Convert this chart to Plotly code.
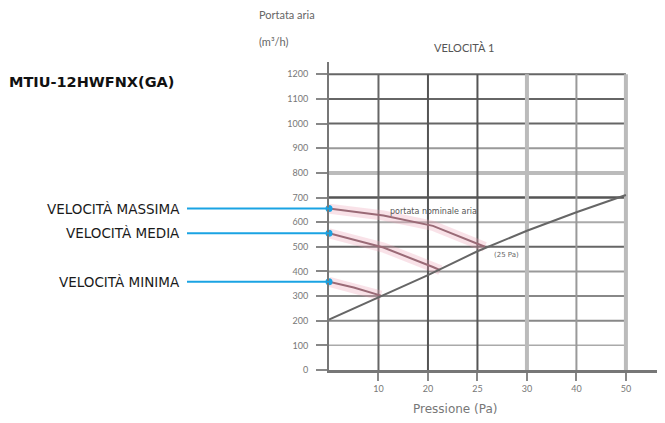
import plotly.graph_objects as go

# --- data ---
x_ticks = [1, 2, 3, 4, 5, 6]
x_tick_labels = ["10", "20", "25", "30", "40", "50"]
y_ticks = [0, 100, 200, 300, 400, 500, 600, 700, 800, 900, 1000, 1100, 1200]

# speed curves (x in grid steps, y in m3/h)
max_x = [0, 1.1, 2.1, 3.15]
max_y = [655, 627, 585, 500]
mid_x = [0, 1.1, 2.1, 2.25]
mid_y = [555, 497, 418, 405]
min_x = [0, 0.5, 1.05]
min_y = [358, 335, 302]

# system curve
sys_x = [0, 1, 2, 3, 4, 5, 6]
sys_y = [205, 295, 385, 482, 565, 640, 710]

speed_names = ["VELOCITÀ MASSIMA", "VELOCITÀ MEDIA", "VELOCITÀ MINIMA"]
speed_start = [655, 555, 358]

# the page body adds an 8px margin, so the figure is drawn 8px in
OFF = 8
W, H = 665 - OFF, 423 - OFF
L, R = 329 - OFF, 0
T = 62 - OFF
B = H - (370 - OFF)
PW = W - L - R
PH = H - T - B
X_MAX = 6.79
Y_MAX = 1250


def px_x(px):
    # screen pixel -> paper x
    return (px - OFF - L) / PW


def px_y(py):
    # screen pixel -> paper y
    return (H - B - (py - OFF)) / PH


fig = go.Figure()

# horizontal grid lines
h_style = {100: ("#aaa", 1.5), 200: ("#888", 2), 300: ("#888", 2), 400: ("#999", 2),
           500: ("#666", 2), 600: ("#aaa", 2), 700: ("#555", 2.5), 800: ("#bbb", 4),
           900: ("#999", 2), 1000: ("#666", 2), 1100: ("#666", 2), 1200: ("#666", 2)}
for v in y_ticks[1:]:
    c, w = h_style[v]
    fig.add_shape(type="line", xref="x", yref="y", x0=0, x1=6, y0=v, y1=v,
                  line=dict(color=c, width=w), layer="below")

# vertical grid lines
v_style = {1: ("#666", 2), 2: ("#555", 2), 3: ("#555", 2), 4: ("#bbb", 4),
           5: ("#999", 2), 6: ("#bbb", 4)}
for v in x_ticks:
    c, w = v_style[v]
    fig.add_shape(type="line", xref="x", yref="y", x0=v, x1=v, y0=0, y1=1200,
                  line=dict(color=c, width=w), layer="below")

# pink halos + curves
for xs, ys in [(max_x, max_y), (mid_x, mid_y), (min_x, min_y)]:
    fig.add_trace(go.Scatter(x=xs, y=ys, mode="lines", hoverinfo="skip",
                             line=dict(color="rgba(235,160,180,0.3)", width=10)))
    fig.add_trace(go.Scatter(x=xs, y=ys, mode="lines", hoverinfo="skip",
                             line=dict(color="#9a6a76", width=2)))

fig.add_trace(go.Scatter(x=sys_x, y=sys_y, mode="lines", hoverinfo="skip",
                         line=dict(color="#666", width=2)))

# callout lines and dots
for name, v in zip(speed_names, speed_start):
    fig.add_shape(type="line", xref="paper", yref="y", x0=px_x(187), x1=0,
                  y0=v, y1=v, line=dict(color="#1aa3e3", width=2))
    fig.add_annotation(xref="paper", yref="y", x=px_x(182), y=v, text=name,
                       showarrow=False, xanchor="right", yanchor="middle",
                       font=dict(family="DejaVu Sans", size=13.5, color="#1a1a1a"))
fig.add_trace(go.Scatter(x=[0] * len(speed_start), y=speed_start, mode="markers",
                         cliponaxis=False, hoverinfo="skip",
                         marker=dict(color="#1aa3e3", size=7)))

# small labels inside chart
fig.add_annotation(xref="x", yref="y", x=1.2, y=645, text="portata nominale aria",
                   showarrow=False, xanchor="left", yanchor="middle",
                   font=dict(family="DejaVu Sans", size=8, color="#555"))
fig.add_annotation(xref="x", yref="y", x=3.3, y=465, text="(25 Pa)",
                   showarrow=False, xanchor="left", yanchor="middle",
                   font=dict(family="DejaVu Sans", size=7, color="#666"))

# titles
fig.add_annotation(xref="paper", yref="paper", x=px_x(176), y=px_y(82),
                   text="<b>MTIU-12HWFNX(GA)</b>", showarrow=False,
                   xanchor="right", yanchor="middle",
                   font=dict(family="DejaVu Sans", size=14.5, color="#111"))
fig.add_annotation(xref="paper", yref="paper", x=px_x(257), y=px_y(15),
                   text="Portata aria", showarrow=False, xanchor="left",
                   yanchor="middle", font=dict(family="Lato", size=11, color="#666"))
fig.add_annotation(xref="paper", yref="paper", x=px_x(257), y=px_y(41),
                   text="(m³/h)", showarrow=False, xanchor="left",
                   yanchor="middle", font=dict(family="Lato", size=11, color="#666"))
fig.add_annotation(xref="paper", yref="paper", x=px_x(464), y=px_y(47),
                   text="VELOCITÀ 1", showarrow=False, xanchor="center",
                   yanchor="middle", font=dict(family="Lato", size=11, color="#555"))
fig.add_annotation(xref="paper", yref="paper", x=px_x(455), y=px_y(409),
                   text="Pressione (Pa)", showarrow=False, xanchor="center",
                   yanchor="middle", font=dict(family="DejaVu Sans", size=12, color="#777"))

fig.update_xaxes(range=[0, X_MAX], showgrid=False, zeroline=False,
                 showline=True, linecolor="#777", linewidth=2.5,
                 ticks="outside", ticklen=8, tickwidth=2, tickcolor="#888",
                 tickvals=x_ticks, ticktext=x_tick_labels,
                 tickfont=dict(family="Lato", size=9, color="#777"))
fig.update_yaxes(range=[0, Y_MAX], showgrid=False, zeroline=False,
                 showline=True, linecolor="#777", linewidth=2,
                 ticks="outside", ticklen=11, tickwidth=1.5, tickcolor="#888",
                 tickvals=y_ticks, ticklabelstandoff=6,
                 tickfont=dict(family="Lato", size=9, color="#777"))

fig.update_layout(width=W, height=H, showlegend=False,
                  margin=dict(l=L, r=R, t=T, b=B),
                  paper_bgcolor="white", plot_bgcolor="white")

fig.write_html("out.html")
